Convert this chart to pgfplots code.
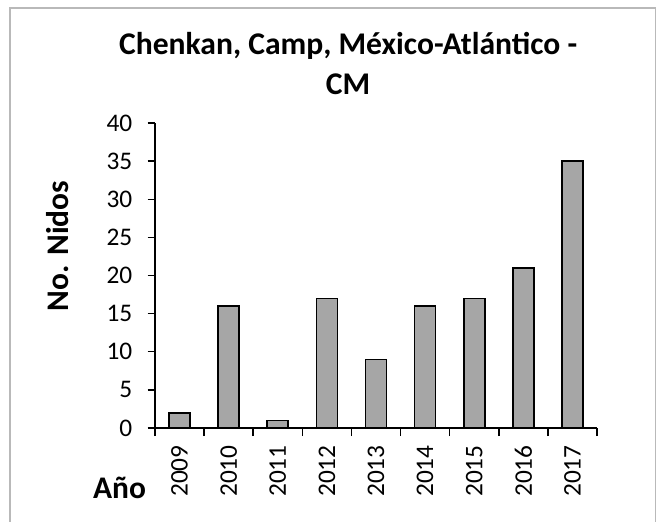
\documentclass[border=0pt]{standalone}
\usepackage{fontspec}
\setmainfont{Carlito}
\usepackage{pgfplots}
\pgfplotsset{compat=1.18}
\newcommand\ticksize{\fontsize{19pt}{21pt}\selectfont}
\newcommand\labsize{\bfseries\fontsize{23.6pt}{26pt}\selectfont}

\begin{document}
\begin{tikzpicture}
  \useasboundingbox (-116.25pt,-69.75pt) rectangle (378pt,321pt);
  \draw[gray!55, line width=0.8pt] (-108.75pt,-120pt) -- (-108.75pt,315pt) -- (375.4pt,315pt) -- (375.4pt,-120pt);
  \begin{axis}[
    at={(0,0)}, anchor=south west,
    scale only axis,
    width=331.5pt, height=228.75pt,
    ybar, bar width=15.75pt,
    xmin=-0.5, xmax=8.5,
    ymin=0, ymax=40,
    ytick={0,5,...,40},
    xtick={0,...,8},
    xticklabels={2009,2010,2011,2012,2013,2014,2015,2016,2017},
    minor xtick={-0.5,0.5,...,8.5},
    axis x line*=bottom, axis y line*=left,
    axis line style={line width=1.1pt, black},
    tick align=outside,
    major tick length=5.5pt, minor tick length=6pt,
    x tick style={draw=none},
    minor x tick style={line width=1.1pt, black, draw},
    y tick style={line width=1.1pt, black},
    /pgf/number format/assume math mode=true,
    yticklabel shift=8pt, xticklabel shift=4pt,
    yticklabel style={font=\ticksize},
    xticklabel style={font=\ticksize, rotate=90, anchor=east},
    title={Chenkan, Camp, México-Atlántico -\\CM},
    title style={font=\bfseries\fontsize{23.7pt}{30pt}\selectfont, align=center,
      inner sep=0pt, at={(axis description cs:0.437,1)}, anchor=south, yshift=15pt},
    ylabel={No. Nidos},
    ylabel style={font=\labsize, rotate=0,
      at={(axis description cs:-0.1946,0.597)}, anchor=base},
    xlabel={Año},
    xlabel style={font=\labsize,
      at={(axis description cs:-0.0803,-0.2295)}, anchor=base},
  ]
    \addplot[fill=black!35, draw=black, line width=1.25pt] coordinates {
      (0,2) (1,16) (2,1) (3,17) (4,9) (5,16) (6,17) (7,21) (8,35)
    };
  \end{axis}
\end{tikzpicture}
\end{document}
